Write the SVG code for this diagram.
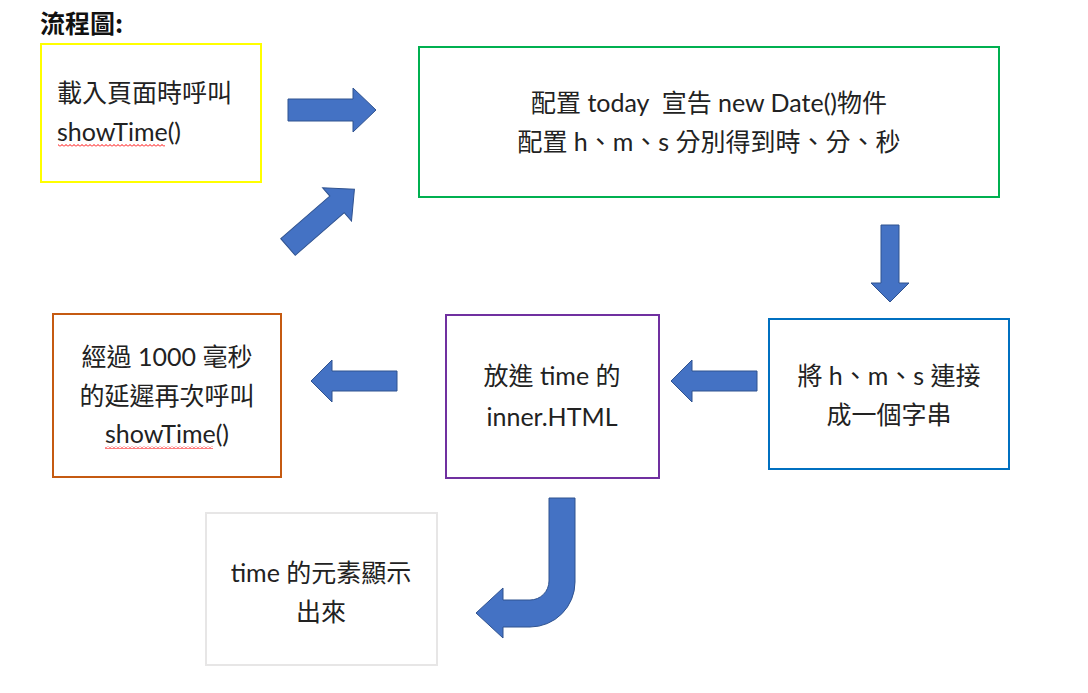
<svg xmlns="http://www.w3.org/2000/svg" width="1088" height="693" viewBox="0 0 1088 693">
<style>
.box{fill:#fff;stroke-width:2}
.t{font-family:Lato,"Noto Sans CJK TC",sans-serif;font-size:25px;fill:#222}
.c{text-anchor:middle}
.arr{fill:#4472C4;stroke:#2F528F;stroke-width:1}
.title{font-family:"Noto Sans CJK TC",sans-serif;font-weight:bold;font-size:25px;fill:#111}
</style>
<defs>
<pattern id="squig" x="0" y="0" width="4" height="3" patternUnits="userSpaceOnUse">
<path d="M0,2.5 L2,0.5 L4,2.5" fill="none" stroke="#FF0000" stroke-width="1"/>
</pattern>
</defs>
<rect width="1088" height="693" fill="#fff"/>
<text class="title" x="40" y="33">流程圖:</text>

<g id="node-load">
<rect class="box" x="41" y="44" width="220" height="138" stroke="#FFFF00"/>
<text class="t" x="57" y="102">載入頁面時呼叫</text>
<text class="t" x="57" y="141">showTime()</text>
<rect x="58" y="144" width="107" height="3" fill="url(#squig)"/>
</g>

<g id="node-config">
<rect class="box" x="419" y="47" width="580" height="150" stroke="#00B050"/>
<text class="t c" x="709" y="112" xml:space="preserve">配置 today  宣告 new Date()物件</text>
<text class="t c" x="709" y="151" xml:space="preserve">配置 h、m、s 分別得到時、分、秒</text>
</g>

<g id="node-concat">
<rect class="box" x="769" y="319" width="240" height="150" stroke="#0070C0"/>
<text class="t c" x="889" y="385">將 h、m、s 連接</text>
<text class="t c" x="889" y="424">成一個字串</text>
</g>

<g id="node-inner">
<rect class="box" x="446" y="315" width="213" height="163" stroke="#7030A0"/>
<text class="t c" x="552" y="385">放進 time 的</text>
<text class="t c" x="552" y="426">inner.HTML</text>
</g>

<g id="node-delay">
<rect class="box" x="53" y="314" width="228" height="163" stroke="#C55A11"/>
<text class="t c" x="167" y="366">經過 1000 毫秒</text>
<text class="t c" x="167" y="405">的延遲再次呼叫</text>
<text class="t c" x="167" y="443">showTime()</text>
<rect x="105" y="446" width="108" height="3" fill="url(#squig)"/>
</g>

<g id="node-display">
<rect class="box" x="206" y="513" width="231" height="152" stroke="#E7E6E6" stroke-width="1.5"/>
<text class="t c" x="321" y="582">time 的元素顯示</text>
<text class="t c" x="321" y="621">出來</text>
</g>

<g id="connectors">
<path class="arr" d="M288,99 H353 V88 L376,110 L353,132 V121 H288 Z"/>
<path class="arr" transform="translate(288,247) rotate(-41)" d="M0,-11 H65 V-22 L88,0 L65,22 V11 H0 Z"/>
<path class="arr" d="M881,225 H899 V283 H909 L890,302 L871,283 H881 Z"/>
<path class="arr" d="M757,371 V391 H692 V402 L671,381 L692,360 V371 Z"/>
<path class="arr" d="M397,371 V391 H332 V402 L311,381 L332,360 V371 Z"/>
<path class="arr" d="M549,498 H575 V582 A45,45 0 0 1 530,627 H503 V638 L476,613 L503,588 V600 H530 A19,19 0 0 0 549,581 Z"/>
</g>
</svg>
